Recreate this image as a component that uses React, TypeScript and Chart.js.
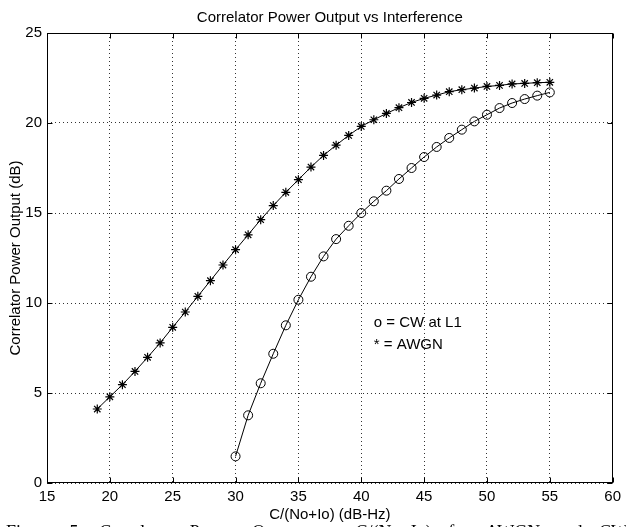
import React, { useEffect, useRef } from "react";
import { Chart, registerables } from "chart.js";

Chart.register(...registerables);

const titleText = "Correlator Power Output vs Interference";
const xTitle = "C/(No+Io) (dB-Hz)";
const yTitle = "Correlator Power Output (dB)";
const noteLines = ["o = CW at L1", "* = AWGN"];
const captionText = "Figure 5. Correlator Power Output vs. C/(No+Io) for AWGN and CW";

const xTicks = [15, 20, 25, 30, 35, 40, 45, 50, 55, 60];
const yTicks = [0, 5, 10, 15, 20, 25];

const awgnX = [19, 20, 21, 22, 23, 24, 25, 26, 27, 28, 29, 30, 31, 32, 33, 34, 35, 36, 37, 38, 39, 40, 41, 42, 43, 44, 45, 46, 47, 48, 49, 50, 51, 52, 53, 54, 55];
const awgnY = [4.11, 4.79, 5.46, 6.2, 6.98, 7.78, 8.65, 9.5, 10.37, 11.24, 12.11, 12.96, 13.79, 14.63, 15.41, 16.15, 16.85, 17.55, 18.2, 18.77, 19.31, 19.81, 20.18, 20.53, 20.85, 21.14, 21.37, 21.55, 21.74, 21.85, 21.94, 22.03, 22.09, 22.17, 22.2, 22.24, 22.26];

const cwX = [30, 31, 32, 33, 34, 35, 36, 37, 38, 39, 40, 41, 42, 43, 44, 45, 46, 47, 48, 49, 50, 51, 52, 53, 54, 55];
const cwY = [1.48, 3.76, 5.54, 7.18, 8.76, 10.18, 11.46, 12.59, 13.55, 14.29, 15.0, 15.65, 16.24, 16.89, 17.5, 18.11, 18.67, 19.17, 19.63, 20.09, 20.46, 20.83, 21.11, 21.33, 21.52, 21.7];

// annotation anchor in data units
const noteX = 41;
const noteY = [8.9, 7.68];

const SANS = '"Liberation Sans", Arial, Helvetica, sans-serif';
const SERIF = '"Liberation Serif", "Times New Roman", serif';

const overlay = {
  id: "overlay",
  afterDraw(chart: any) {
    const { ctx, chartArea: a, scales } = chart;
    const xs = scales.x;
    const ys = scales.y;
    ctx.save();
    ctx.setLineDash([]);
    ctx.strokeStyle = "#000";
    ctx.lineWidth = 1;
    const L = Math.round(a.left) + 0.5;
    const R = Math.round(a.right) - 0.5;
    const T = Math.round(a.top) + 0.5;
    const B = Math.round(a.bottom) - 0.5;
    ctx.strokeRect(L, T, R - L, B - T);
    const tl = 5;
    ctx.beginPath();
    for (const v of xTicks) {
      const px = Math.round(xs.getPixelForValue(v)) + 0.5;
      ctx.moveTo(px, B);
      ctx.lineTo(px, B - tl);
      ctx.moveTo(px, T);
      ctx.lineTo(px, T + tl);
    }
    for (const v of yTicks) {
      const py = Math.round(ys.getPixelForValue(v)) + 0.5;
      ctx.moveTo(L, py);
      ctx.lineTo(L + tl, py);
      ctx.moveTo(R, py);
      ctx.lineTo(R - tl, py);
    }
    ctx.stroke();

    ctx.fillStyle = "#000";
    ctx.font = `15px ${SANS}`;
    ctx.textAlign = "center";
    ctx.textBaseline = "middle";
    const cx = (a.left + a.right) / 2;
    const cy = (a.top + a.bottom) / 2;
    ctx.fillText(titleText, cx, 18);
    ctx.fillText(xTitle, cx, 515);
    ctx.save();
    ctx.translate(16, cy);
    ctx.rotate(-Math.PI / 2);
    ctx.fillText(yTitle, 0, 0);
    ctx.restore();

    ctx.textAlign = "left";
    const nx = xs.getPixelForValue(noteX);
    noteLines.forEach((t, i) => {
      ctx.fillText(t, nx, ys.getPixelForValue(noteY[i]));
    });

    // caption (justified), mostly cut off by the bottom edge
    ctx.font = `18px ${SERIF}`;
    ctx.textBaseline = "alphabetic";
    const words = captionText.split(" ");
    const widths = words.map((w: string) => ctx.measureText(w).width);
    const total = widths.reduce((s: number, w: number) => s + w, 0);
    const x0 = 6;
    const x1 = 628;
    const gap = (x1 - x0 - total) / (words.length - 1);
    let x = x0;
    words.forEach((w: string, i: number) => {
      ctx.fillText(w, x, 538);
      x += widths[i] + gap;
    });
    ctx.restore();
  },
};

export default function App() {
  const ref = useRef<HTMLCanvasElement | null>(null);
  useEffect(() => {
    if (!ref.current) return;
    const gridCommon = {
      color: "#333",
      lineWidth: 1,
      drawTicks: false,
    };
    const chart = new Chart(ref.current, {
      type: "scatter",
      data: {
        datasets: [
          {
            label: "AWGN",
            data: awgnX.map((x, i) => ({ x, y: awgnY[i] })),
            showLine: true,
            borderColor: "#000",
            borderWidth: 1,
            pointStyle: "star",
            pointRadius: 4.5,
            pointBorderColor: "#000",
            pointBorderWidth: 1.2,
            pointBackgroundColor: "transparent",
          },
          {
            label: "CW at L1",
            data: cwX.map((x, i) => ({ x, y: cwY[i] })),
            showLine: true,
            borderColor: "#000",
            borderWidth: 1,
            pointStyle: "circle",
            pointRadius: 4.5,
            pointBorderColor: "#000",
            pointBorderWidth: 1,
            pointBackgroundColor: "transparent",
          },
        ],
      },
      options: {
        responsive: false,
        animation: false,
        events: [],
        layout: { padding: { left: 0, top: 33, right: 9, bottom: 0 } },
        plugins: {
          legend: { display: false },
          tooltip: { enabled: false },
          title: { display: false },
        },
        scales: {
          x: {
            type: "linear",
            min: 15,
            max: 60,
            afterBuildTicks: (s: any) => {
              s.ticks = xTicks.map((v) => ({ value: v }));
            },
            afterFit: (s: any) => {
              s.height = 44;
            },
            grid: gridCommon,
            border: { display: false, dash: [1, 3] },
            ticks: {
              color: "#000",
              padding: 5,
              maxRotation: 0,
              autoSkip: false,
              font: { family: SANS, size: 15 },
            },
          },
          y: {
            type: "linear",
            min: 0,
            max: 25,
            afterBuildTicks: (s: any) => {
              s.ticks = yTicks.map((v) => ({ value: v }));
            },
            afterFit: (s: any) => {
              s.width = 47;
            },
            grid: gridCommon,
            border: { display: false, dash: [1, 3] },
            ticks: {
              color: "#000",
              padding: 5,
              autoSkip: false,
              font: { family: SANS, size: 15 },
            },
          },
        },
      },
      plugins: [overlay],
    } as any);
    return () => chart.destroy();
  }, []);
  return (
    <div style={{ position: "absolute", left: 0, top: 0, width: 626, height: 527, background: "#fff", overflow: "hidden" }}>
      <canvas ref={ref} width={626} height={527} style={{ display: "block" }} />
    </div>
  );
}
